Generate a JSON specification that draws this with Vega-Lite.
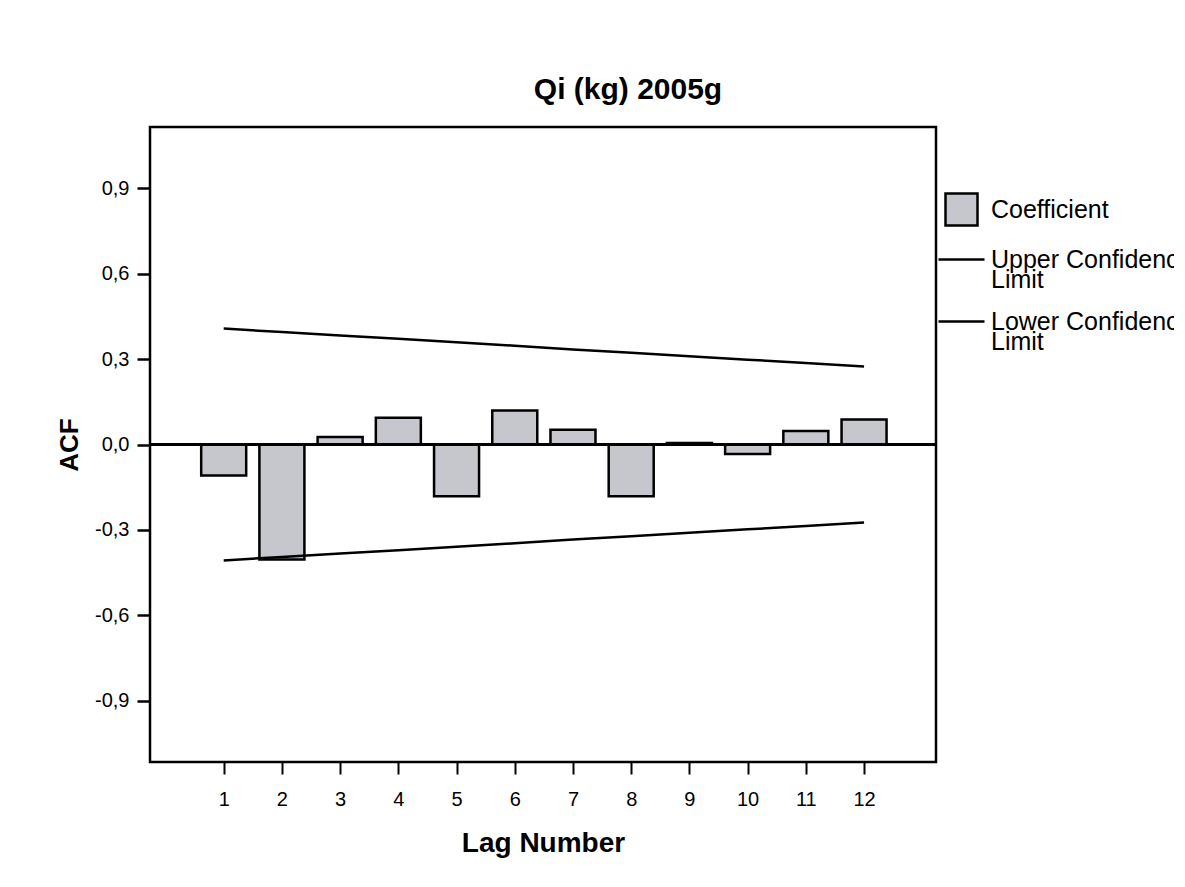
{
  "$schema": "https://vega.github.io/schema/vega-lite/v6.json",
  "width": 786,
  "height": 635,
  "autosize": {"type": "none"},
  "padding": {"left": 150, "top": 127, "right": 238, "bottom": 125},
  "background": "#ffffff",
  "title": {
    "text": "Qi (kg) 2005g",
    "font": "Liberation Sans",
    "fontSize": 30,
    "fontWeight": "bold",
    "color": "#000000",
    "anchor": "middle",
    "frame": "group",
    "dx": 85,
    "offset": 22
  },
  "data": {
    "values": [
      {"lag": 1, "series": "Coefficient", "value": -0.109},
      {"lag": 2, "series": "Coefficient", "value": -0.404},
      {"lag": 3, "series": "Coefficient", "value": 0.026},
      {"lag": 4, "series": "Coefficient", "value": 0.094},
      {"lag": 5, "series": "Coefficient", "value": -0.182},
      {"lag": 6, "series": "Coefficient", "value": 0.119},
      {"lag": 7, "series": "Coefficient", "value": 0.052},
      {"lag": 8, "series": "Coefficient", "value": -0.182},
      {"lag": 9, "series": "Coefficient", "value": 0.005},
      {"lag": 10, "series": "Coefficient", "value": -0.033},
      {"lag": 11, "series": "Coefficient", "value": 0.047},
      {"lag": 12, "series": "Coefficient", "value": 0.088},
      {"lag": 1, "series": "Upper Confidence Limit", "value": 0.407},
      {"lag": 2, "series": "Upper Confidence Limit", "value": 0.395},
      {"lag": 3, "series": "Upper Confidence Limit", "value": 0.383},
      {"lag": 4, "series": "Upper Confidence Limit", "value": 0.371},
      {"lag": 5, "series": "Upper Confidence Limit", "value": 0.359},
      {"lag": 6, "series": "Upper Confidence Limit", "value": 0.347},
      {"lag": 7, "series": "Upper Confidence Limit", "value": 0.334},
      {"lag": 8, "series": "Upper Confidence Limit", "value": 0.322},
      {"lag": 9, "series": "Upper Confidence Limit", "value": 0.310},
      {"lag": 10, "series": "Upper Confidence Limit", "value": 0.298},
      {"lag": 11, "series": "Upper Confidence Limit", "value": 0.286},
      {"lag": 12, "series": "Upper Confidence Limit", "value": 0.274},
      {"lag": 1, "series": "Lower Confidence Limit", "value": -0.407},
      {"lag": 2, "series": "Lower Confidence Limit", "value": -0.395},
      {"lag": 3, "series": "Lower Confidence Limit", "value": -0.383},
      {"lag": 4, "series": "Lower Confidence Limit", "value": -0.371},
      {"lag": 5, "series": "Lower Confidence Limit", "value": -0.359},
      {"lag": 6, "series": "Lower Confidence Limit", "value": -0.347},
      {"lag": 7, "series": "Lower Confidence Limit", "value": -0.334},
      {"lag": 8, "series": "Lower Confidence Limit", "value": -0.322},
      {"lag": 9, "series": "Lower Confidence Limit", "value": -0.310},
      {"lag": 10, "series": "Lower Confidence Limit", "value": -0.298},
      {"lag": 11, "series": "Lower Confidence Limit", "value": -0.286},
      {"lag": 12, "series": "Lower Confidence Limit", "value": -0.274}
    ]
  },
  "encoding": {
    "x": {
      "field": "lag",
      "type": "quantitative",
      "scale": {"domain": [-0.18, 13.15], "nice": false, "zero": false},
      "axis": {
        "title": "Lag Number",
        "values": [1, 2, 3, 4, 5, 6, 7, 8, 9, 10, 11, 12],
        "format": "d",
        "grid": false,
        "domain": false,
        "tickColor": "#000000",
        "tickWidth": 2,
        "tickSize": 12,
        "labelPadding": 15,
        "labelFont": "Liberation Sans",
        "labelFontSize": 20,
        "labelColor": "#000000",
        "titleFont": "Liberation Sans",
        "titleFontSize": 28,
        "titleFontWeight": "bold",
        "titleColor": "#000000",
        "titlePadding": 20
      }
    },
    "y": {
      "field": "value",
      "type": "quantitative",
      "scale": {"domain": [-1.115, 1.115], "nice": false, "zero": false},
      "axis": {
        "title": "ACF",
        "values": [-0.9, -0.6, -0.3, 0, 0.3, 0.6, 0.9],
        "labelExpr": "replace(replace(format(datum.value, '.1f'), '.', ','), '\u2212', '-')",
        "grid": false,
        "domain": false,
        "tickColor": "#000000",
        "tickWidth": 2.5,
        "tickSize": 13,
        "labelPadding": 8,
        "labelFont": "Liberation Sans",
        "labelFontSize": 20,
        "labelColor": "#000000",
        "titleFont": "Liberation Sans",
        "titleFontSize": 26,
        "titleFontWeight": "bold",
        "titleColor": "#000000",
        "titlePadding": 12
      }
    }
  },
  "layer": [
    {
      "transform": [{"filter": "datum.series === 'Coefficient'"}],
      "mark": {"type": "bar", "size": 45, "stroke": "#000000", "strokeWidth": 2.5},
      "encoding": {
        "fill": {
          "field": "series",
          "type": "nominal",
          "scale": {
            "domain": ["Coefficient", "Upper Confidence Limit", "Lower Confidence Limit"],
            "range": ["#c6c7cc", "transparent", "transparent"]
          },
          "legend": {
            "orient": "none",
            "legendX": 787,
            "legendY": 58,
            "title": null,
            "padding": 0,
            "symbolSize": 2116,
            "symbolStrokeWidth": 2.5,
            "labelFont": "Liberation Sans",
            "labelFontSize": 25,
            "labelColor": "#000000",
            "labelOffset": 5,
            "labelLimit": 600,
            "rowPadding": 4,
            "labelExpr": "datum.value === 'Coefficient' ? 'Coefficient' : [slice(datum.value, 0, indexof(datum.value, ' Limit')), 'Limit']",
            "encode": {
              "symbols": {
                "update": {
                  "shape": {"signal": "datum.value === 'Coefficient' ? 'square' : 'stroke'"},
                  "size": {"signal": "datum.value === 'Coefficient' ? 1024 : 2116"},
                  "strokeWidth": {"value": 2.5},
                  "opacity": {"value": 1}
                }
              },
              "labels": {
                "update": {"lineHeight": {"value": 20}}
              }
            }
          }
        }
      }
    },
    {
      "mark": {"type": "rule", "color": "#000000", "strokeWidth": 2.5},
      "encoding": {"y": {"datum": 0}, "x": null}
    },
    {
      "transform": [{"filter": "datum.series !== 'Coefficient'"}],
      "mark": {"type": "line", "strokeWidth": 2.5},
      "encoding": {
        "stroke": {
          "field": "series",
          "type": "nominal",
          "scale": {
            "domain": ["Coefficient", "Upper Confidence Limit", "Lower Confidence Limit"],
            "range": ["#000000", "#000000", "#000000"]
          },
          "legend": {
            "orient": "none",
            "legendX": 787,
            "legendY": 58,
            "title": null,
            "padding": 0,
            "symbolSize": 2116,
            "symbolStrokeWidth": 2.5,
            "labelFont": "Liberation Sans",
            "labelFontSize": 25,
            "labelColor": "#000000",
            "labelOffset": 5,
            "labelLimit": 600,
            "rowPadding": 4,
            "labelExpr": "datum.value === 'Coefficient' ? 'Coefficient' : [slice(datum.value, 0, indexof(datum.value, ' Limit')), 'Limit']",
            "encode": {
              "symbols": {
                "update": {
                  "shape": {"signal": "datum.value === 'Coefficient' ? 'square' : 'stroke'"},
                  "size": {"signal": "datum.value === 'Coefficient' ? 1024 : 2116"},
                  "strokeWidth": {"value": 2.5},
                  "opacity": {"value": 1}
                }
              },
              "labels": {
                "update": {"lineHeight": {"value": 20}}
              }
            }
          }
        }
      }
    }
  ],
  "config": {
    "view": {"stroke": "#000000", "strokeWidth": 2.5}
  }
}
